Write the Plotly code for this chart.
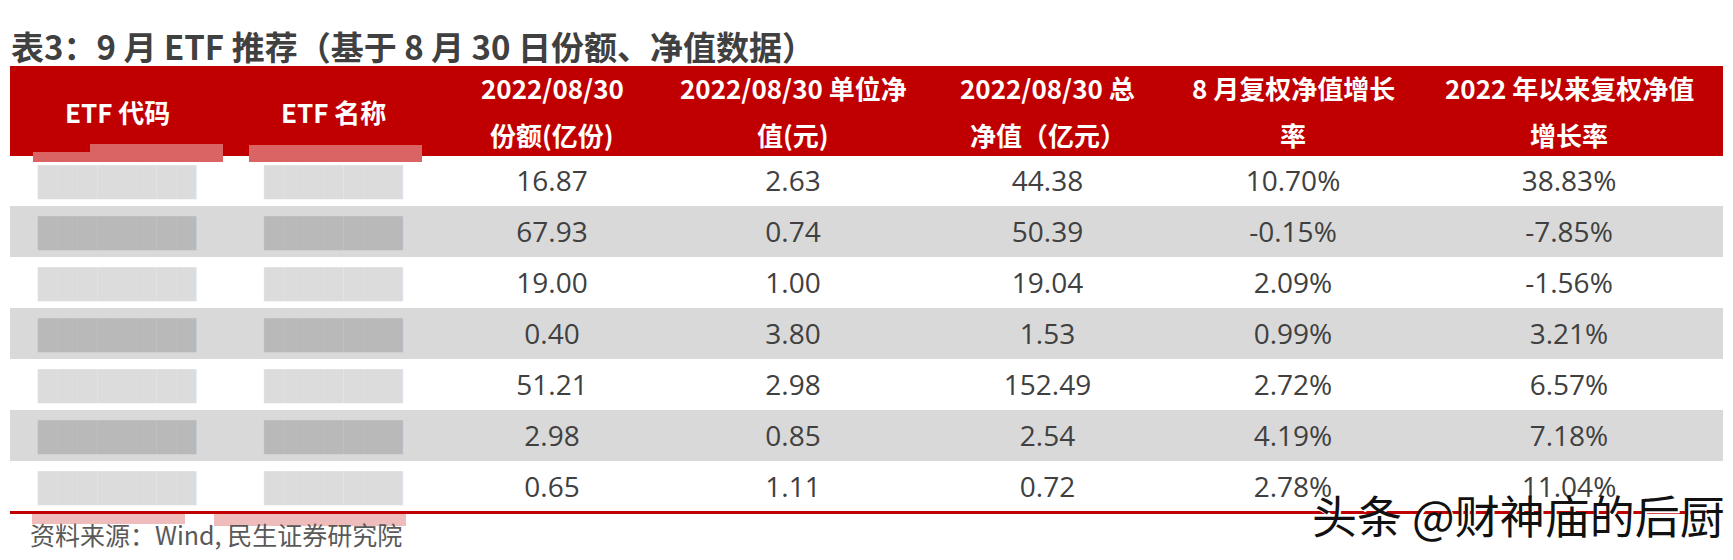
import plotly.graph_objects as go

# 表3: 9 月 ETF 推荐
# (ETF code / name were mosaicked in the source, kept as masked placeholders)
etf_code = ["████████"] * 7
etf_name = ["███████"] * 7
fene = [16.87, 67.93, 19.00, 0.40, 51.21, 2.98, 0.65]            # 份额(亿份)
danwei_jz = [2.63, 0.74, 1.00, 3.80, 2.98, 0.85, 1.11]            # 单位净值(元)
zong_jz = [44.38, 50.39, 19.04, 1.53, 152.49, 2.54, 0.72]         # 总净值(亿元)
aug_growth = [10.70, -0.15, 2.09, 0.99, 2.72, 4.19, 2.78]         # 8 月复权净值增长率 %
ytd_growth = [38.83, -7.85, -1.56, 3.21, 6.57, 7.18, 11.04]       # 2022 年以来复权净值增长率 %

head_line1 = ["ETF 代码", "ETF 名称", "2022/08/30", "2022/08/30 单位净",
              "2022/08/30 总", "8 月复权净值增长", "2022 年以来复权净值"]
head_line2 = ["", "", "份额(亿份)", "值(元)", "净值（亿元）", "率", "增长率"]

title = "表3：9 月 ETF 推荐（基于 8 月 30 日份额、净值数据）"
source = "资料来源：Wind, 民生证券研究院"
watermark = "头条 @财神庙的后厨"

# layout (page pixels; the page body has an 8px margin)
W, H = 1733, 560
OFF = 8
X0, X1 = 10, 1722
col_w = [214, 219, 218, 264, 245, 246, 306]
HEAD_TOP, HEAD_H, ROW_H = 66, 89, 51
TEXT_DROP = 7          # plotly tables top-align text, push it to row middle
RED = "#c00000"
GRAY = "#d9d9d9"
TXT = "#404040"
CLEAR = "rgba(0,0,0,0)"


def px(x):
    return (x - OFF) / W


def py(y):
    return 1 - (y - OFF) / H


n = len(fene)
row_fill = ["white" if i % 2 == 0 else GRAY for i in range(n)]
mask_col = ["#dcdcdc" if i % 2 == 0 else "#b9b9b9" for i in range(n)]
font_col = [mask_col, mask_col] + [[TXT] * n] * 5
blank = [[""] * n] * 7

fig = go.Figure()
# backgrounds
fig.add_trace(go.Table(
    domain=dict(x=[px(X0), px(X1)], y=[0, py(HEAD_TOP)]),
    columnwidth=col_w,
    header=dict(values=[""] * 7, height=HEAD_H, fill_color=RED,
                line=dict(color=RED, width=1)),
    cells=dict(values=blank, height=ROW_H,
               fill_color=[row_fill] * 7,
               line=dict(color=[row_fill] * 7, width=1)),
))
# values
fig.add_trace(go.Table(
    domain=dict(x=[px(X0), px(X1)], y=[0, py(HEAD_TOP + TEXT_DROP)]),
    columnwidth=col_w,
    header=dict(values=[""] * 7, height=HEAD_H, fill_color=CLEAR,
                line=dict(color=CLEAR, width=0)),
    cells=dict(values=[etf_code, etf_name, fene, danwei_jz, zong_jz, aug_growth, ytd_growth],
               format=["", "", ".2f", ".2f", ".2f", ".2f", ".2f"],
               suffix=["", "", "", "", "", "%", "%"],
               height=ROW_H, align="center",
               fill_color=CLEAR, line=dict(color=CLEAR, width=0),
               font=dict(family="Open Sans", size=28, color=font_col)),
))

# header labels
left = X0
hf = dict(family="Noto Sans CJK SC", size=26, color="white")
for i, w in enumerate(col_w):
    cx = left + w / 2
    left += w
    if head_line2[i]:
        fig.add_annotation(x=px(cx), y=py(88), text="<b>" + head_line1[i] + "</b>", font=hf)
        fig.add_annotation(x=px(cx), y=py(135), text="<b>" + head_line2[i] + "</b>", font=hf)
    else:
        fig.add_annotation(x=px(cx), y=py(111), text="<b>" + head_line1[i] + "</b>", font=hf)

# blur artefacts round the masked columns (boxes above the table)
blobs = [  # x0, x1, y0, y1, colour
    (33, 100, 152, 162, "#da6464"),
    (90, 223, 144, 162, "#da6464"),
    (249, 422, 145, 162, "#da6464"),
    (32, 185, 514, 524, "#efbcbc"),
    (214, 406, 514, 526, "#efbcbc"),
]
for bx0, bx1, by0, by1, bc in blobs:
    fig.add_annotation(x=px((bx0 + bx1) / 2), y=py((by0 + by1) / 2), text=" ",
                       width=bx1 - bx0, height=by1 - by0, bgcolor=bc,
                       borderpad=0, borderwidth=0, font=dict(size=6))

fig.update_annotations(xref="paper", yref="paper", showarrow=False,
                       xanchor="center", yanchor="middle")

# title, source, watermark
fig.add_annotation(x=px(9), y=py(46), text="<b>" + title + "</b>", xref="paper", yref="paper",
                   showarrow=False, xanchor="left", yanchor="middle",
                   font=dict(family="Noto Sans CJK SC", size=33, color="#404040"))
fig.add_annotation(x=px(28), y=py(534), text=source, xref="paper", yref="paper",
                   showarrow=False, xanchor="left", yanchor="middle",
                   font=dict(family="Noto Sans CJK SC", size=25, color="#595959"))

# bottom red rule
fig.add_shape(type="line", xref="paper", yref="paper", x0=px(X0), x1=px(X1),
              y0=py(512.5), y1=py(512.5), line=dict(color=RED, width=3), layer="above")

fig.add_annotation(x=px(1310), y=py(514), text=watermark, xref="paper", yref="paper",
                   showarrow=False, xanchor="left", yanchor="middle",
                   font=dict(family="Noto Sans CJK SC", size=45, color="#111111",
                             shadow="2px 2px 0px white"))

fig.update_layout(width=W, height=H, margin=dict(l=0, r=0, t=0, b=0),
                  paper_bgcolor="white", plot_bgcolor="white", showlegend=False)

fig.write_html("out.html")
